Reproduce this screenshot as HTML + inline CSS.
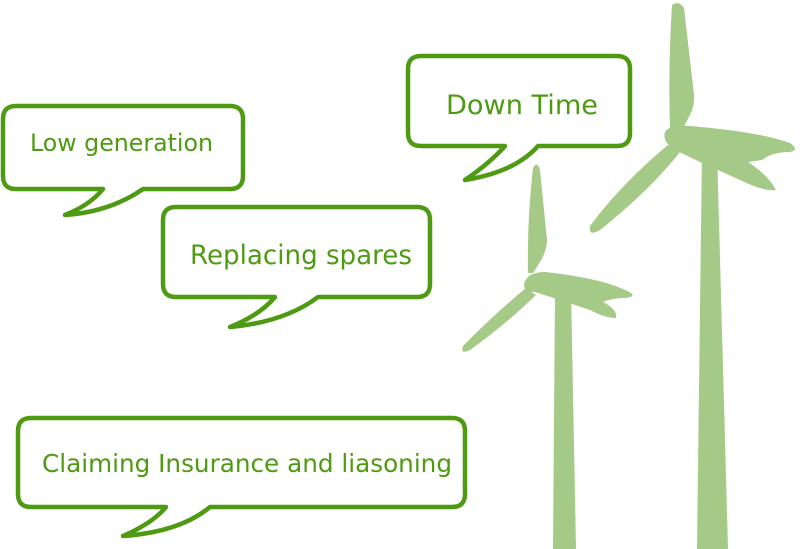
<!DOCTYPE html>
<html><head><meta charset="utf-8"><style>
html,body{margin:0;padding:0;background:#fff;}
svg{display:block}
text{font-family:"DejaVu Sans","Liberation Sans",sans-serif;fill:#4e9a12;}
</style></head><body>
<svg width="800" height="549" viewBox="0 0 800 549" xmlns="http://www.w3.org/2000/svg">
<g fill="#a5c986">
<!-- big turbine -->
<path d="M702,150 L717,150 L728,549 L697,549 Z"/>
<path d="M672,5 Q679,0 684,8 L694,95 Q695,105 690,115 L683,128 L670,128 Q668,70 672,5 Z"/>
<path d="M665,132 Q670,124 690,126 Q760,132 790,143 Q800,150 790,152 Q772,152 762,160 L748,162 Q768,175 776,190 Q765,192 740,180 L700,162 L675,150 Q662,142 665,132 Z"/>
<path d="M668,145 L680,152 Q650,190 600,230 Q588,237 590,226 Q620,185 668,145 Z"/>
<!-- small turbine -->
<path d="M555,290 L571,290 L576,549 L553,549 Z"/>
<path d="M533,168 Q537,160 540,170 L547,240 Q547,250 540,262 L533,273 L528,273 Q527,220 533,168 Z"/>
<path d="M524,285 Q526,272 545,272 Q600,278 625,290 Q640,296 625,298 Q612,298 603,302 Q618,310 616,318 Q605,318 590,310 L560,300 L535,292 Q524,292 524,285 Z"/>
<path d="M526,288 L536,295 Q505,325 470,350 Q460,355 463,346 Q490,318 526,288 Z"/>
</g>
<g fill="#fff" stroke="#4e9a12" stroke-width="4.5" stroke-linejoin="round">
<path d="M16,106 H230 Q243,106 243,119 V176 Q243,189 230,189 H143 Q110,212 65,215 Q90,205 103,189 H16 Q3,189 3,176 V119 Q3,106 16,106 Z"/>
<path d="M176,207 H417 Q430,207 430,220 V284 Q430,297 417,297 H318 Q285,322 230,327 Q260,315 275,297 H176 Q163,297 163,284 V220 Q163,207 176,207 Z"/>
<path d="M421,56 H617 Q630,56 630,69 V133 Q630,146 617,146 H538 Q515,172 465,180 Q490,163 505,146 H421 Q408,146 408,133 V69 Q408,56 421,56 Z"/>
<path d="M31,418 H452 Q465,418 465,431 V494 Q465,507 452,507 H210 Q180,532 123,536 Q153,523 166,507 H31 Q18,507 18,494 V431 Q18,418 31,418 Z"/>
</g>
<text x="30" y="151" font-size="24" textLength="183" lengthAdjust="spacingAndGlyphs">Low generation</text>
<text x="190" y="264" font-size="27" textLength="222" lengthAdjust="spacingAndGlyphs">Replacing spares</text>
<text x="446" y="114" font-size="27" textLength="152" lengthAdjust="spacingAndGlyphs">Down Time</text>
<text x="42" y="472" font-size="25" textLength="410" lengthAdjust="spacingAndGlyphs">Claiming Insurance and liasoning</text>
</svg>
</body></html>
